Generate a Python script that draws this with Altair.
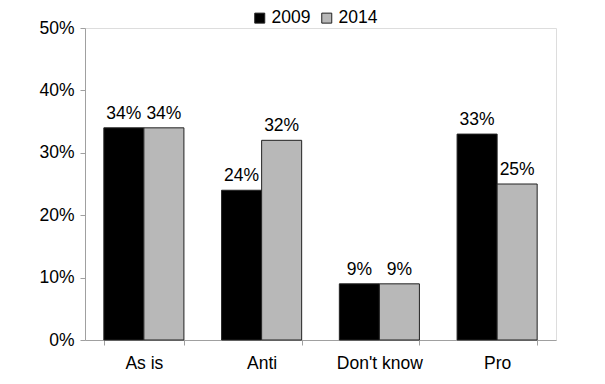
import altair as alt
import pandas as pd

categories = ["As is", "Anti", "Don't know", "Pro"]
years = ["2009", "2014"]
values_2009 = [34, 24, 9, 33]
values_2014 = [34, 32, 9, 25]

rows = []
for c, a, b in zip(categories, values_2009, values_2014):
    rows.append({"category": c, "year": "2009", "value": a / 100})
    rows.append({"category": c, "year": "2014", "value": b / 100})
df = pd.DataFrame(rows)

FONT = "Liberation Sans"
FS = 17.5

x = alt.X("category:N", sort=categories, title=None,
          scale=alt.Scale(paddingInner=0.32, paddingOuter=0.16),
          axis=alt.Axis(labelAngle=0, tickBand="extent", domainColor="#a0a0a0",
                        tickColor="#a0a0a0", tickSize=5, labelPadding=9,
                        labelFont=FONT, labelFontSize=FS, labelColor="black"))
y = alt.Y("value:Q", title=None,
          scale=alt.Scale(domain=[0, 0.5]),
          axis=alt.Axis(format=".0%", values=[0, 0.1, 0.2, 0.3, 0.4, 0.5], grid=False,
                        domainColor="#a0a0a0", tickColor="#a0a0a0", tickSize=5,
                        labelPadding=6, labelFont=FONT, labelFontSize=FS,
                        labelColor="black"))
xo = alt.XOffset("year:N", sort=years, scale=alt.Scale(paddingInner=0, paddingOuter=0))

bars = alt.Chart(df).mark_bar(stroke="#222222", strokeWidth=1).encode(
    x=x, y=y, xOffset=xo,
    color=alt.Color("year:N", sort=years, title=None,
                    scale=alt.Scale(domain=years, range=["black", "#b8b8b8"]),
                    legend=alt.Legend(orient="none", direction="horizontal",
                                      legendX=166, legendY=-19, padding=0,
                                      symbolType="square", symbolSize=100,
                                      symbolStrokeColor="#222222", symbolStrokeWidth=1,
                                      labelFont=FONT, labelFontSize=FS, labelColor="black",
                                      labelOffset=3, columnPadding=7)),
)

labels = alt.Chart(df).mark_text(font=FONT, fontSize=FS, color="black",
                                 baseline="alphabetic", dy=-9).encode(
    x=x, y=y, xOffset=xo,
    text=alt.Text("value:Q", format=".0%"),
)

chart = alt.layer(bars, labels).properties(
    width=471, height=312,
    autosize=alt.AutoSizeParams(type="none"),
    padding={"left": 85, "top": 28, "right": 49, "bottom": 44},
).configure_view(stroke=None).configure(background="white")

chart.save("out.html", embed_options={"renderer": "svg", "actions": False})
